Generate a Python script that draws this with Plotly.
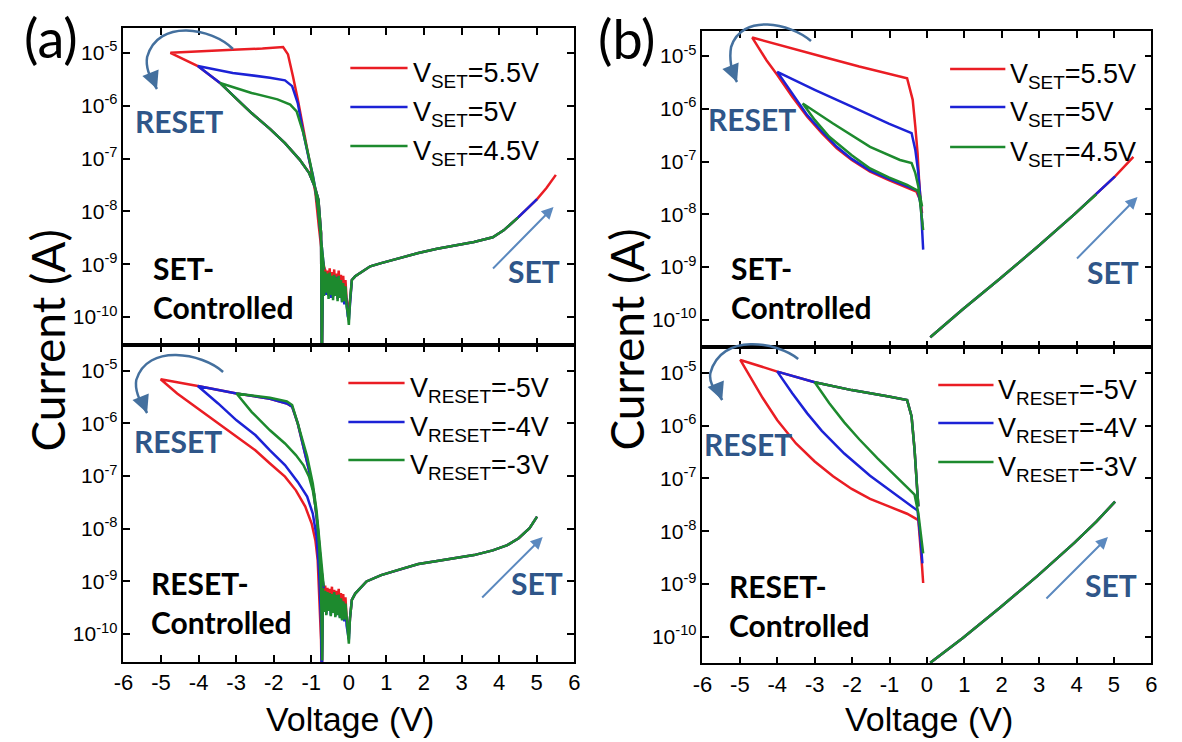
import numpy as np
import plotly.graph_objects as go

W, H = 1182, 742
RED, BLUE, GREEN = '#ea1d24', '#1c22d6', '#1d8a2e'
ARROW_DARK, ARROW_LIGHT, LABEL_BLUE = '#44709e', '#5b89bf', '#2f5689'
NUM_FONT = 'Liberation Sans Narrow, Arial Narrow, Liberation Sans, Arial, sans-serif'
SANS = 'Liberation Sans, Arial, sans-serif'
BOLD_FONT = 'Lato, Open Sans, sans-serif'

# ---------------- data (log10 of current in A) ----------------
x_tick_vals = [-6, -5, -4, -3, -2, -1, 0, 1, 2, 3, 4, 5, 6]
x_tick_text = ['-6', '-5', '-4', '-3', '-2', '-1', '0', '1', '2', '3', '4', '5', '6']
y_tick_vals = [1e-10, 1e-9, 1e-8, 1e-7, 1e-6, 1e-5]
y_tick_text = ['10<sup>-10</sup>', '10<sup>-9</sup>', '10<sup>-8</sup>', '10<sup>-7</sup>',
               '10<sup>-6</sup>', '10<sup>-5</sup>']

set_names = ['V<sub>SET</sub>=5.5V', 'V<sub>SET</sub>=5V', 'V<sub>SET</sub>=4.5V']
reset_names = ['V<sub>RESET</sub>=-5V', 'V<sub>RESET</sub>=-4V', 'V<sub>RESET</sub>=-3V']
v_set = [5.5, 5.0, 4.5]
v_reset = [-5.0, -4.0, -3.0]

# noisy floor between -0.7 V and 0 V (panels a)
floor_V = [-0.69, -0.66, -0.63, -0.60, -0.57, -0.54, -0.51, -0.48, -0.45, -0.42, -0.39, -0.36,
           -0.33, -0.30, -0.27, -0.24, -0.21, -0.18, -0.15, -0.12, -0.09, -0.06, -0.03]

# ---- (a) SET-controlled ----
a1_red_up_V = [-0.64, -0.70, -0.80, -0.89, -0.99, -1.11, -1.21, -1.36, -1.49, -1.62, -1.75, -2.30, -3.09, -4.00, -4.75]
a1_red_up_logI = [-9.10, -8.92, -8.28, -7.65, -7.27, -6.83, -6.39, -5.88, -5.44, -5.03, -4.89, -4.92, -4.94, -4.97, -5.00]
a1_blue_up_V = [-0.66, -0.74, -0.82, -0.90, -0.96, -1.06, -1.21, -1.36, -1.51, -1.70, -2.10, -3.09, -4.02]
a1_blue_up_logI = [-9.10, -8.50, -7.95, -7.55, -7.31, -7.02, -6.52, -5.95, -5.63, -5.52, -5.47, -5.38, -5.25]
a1_green_up_V = [-0.66, -0.74, -0.82, -0.90, -0.96, -1.03, -1.21, -1.39, -1.56, -1.90, -2.59, -3.43]
a1_green_up_logI = [-9.10, -8.50, -7.95, -7.55, -7.31, -7.08, -6.52, -6.11, -5.98, -5.88, -5.76, -5.57]
a1_low_V = [-4.75, -4.02, -3.43, -2.99, -2.59, -2.10, -1.70, -1.31, -1.06, -0.91, -0.81, -0.74, -0.72]
a1_low_logI = [-5.00, -5.25, -5.57, -5.87, -6.14, -6.44, -6.71, -7.02, -7.27, -7.53, -7.78, -8.41, -11.0]
a1_low_start = [-4.75, -4.02, -3.43]
a1_floor_logI = [
    [-9.05, -9.36, -9.10, -9.45, -9.12, -9.40, -9.08, -9.48, -9.15, -9.42, -9.10, -9.50, -9.18, -9.44, -9.12, -9.52, -9.20, -9.55, -9.22, -9.60, -9.30, -9.66, -9.78],
    [-9.18, -9.52, -9.22, -9.58, -9.24, -9.60, -9.26, -9.64, -9.28, -9.62, -9.30, -9.58, -9.24, -9.66, -9.32, -9.62, -9.36, -9.72, -9.42, -9.76, -9.50, -9.84, -9.98],
    [-9.10, -9.60, -9.14, -9.54, -9.18, -9.66, -9.16, -9.58, -9.22, -9.68, -9.20, -9.60, -9.25, -9.70, -9.22, -9.64, -9.30, -9.72, -9.36, -9.70, -9.42, -9.80, -9.92],
]
a1_dip_logI = [-9.95, -10.05, -10.15]
a1_pos_V = [0.03, 0.08, 0.17, 0.37, 0.57, 0.86, 1.36, 1.85, 2.35, 2.84, 3.33, 3.83, 4.12, 4.50, 4.72, 5.01, 5.26, 5.51]
a1_pos_logI = [-9.70, -9.30, -9.23, -9.14, -9.04, -8.98, -8.88, -8.79, -8.71, -8.65, -8.58, -8.49, -8.36, -8.12, -7.97, -7.77, -7.56, -7.31]

# ---- (a) RESET-controlled ----
a2_up_V = [-0.67, -0.74, -0.83, -0.93, -1.06, -1.21, -1.36, -1.51, -1.65, -2.10, -2.99, -4.02, -5.01]
a2_up_logI = [-9.13, -8.72, -7.96, -7.33, -6.89, -6.44, -6.00, -5.68, -5.62, -5.53, -5.43, -5.29, -5.16]
a2_green_up_V = [-0.67, -0.77, -0.86, -0.96, -1.11, -1.36, -1.51, -1.65, -2.10, -2.99]
a2_green_up_logI = [-9.10, -8.34, -7.65, -7.14, -6.63, -6.00, -5.65, -5.58, -5.51, -5.43]
a2_red_low_V = [-5.01, -4.57, -4.02, -3.48, -2.99, -2.49, -2.10, -1.70, -1.41, -1.16, -0.99, -0.89, -0.83, -0.79, -0.74, -0.72]
a2_red_low_logI = [-5.16, -5.43, -5.72, -6.00, -6.25, -6.51, -6.76, -7.01, -7.27, -7.58, -7.90, -8.22, -8.59, -9.16, -10.11, -11.0]
a2_blue_low_V = [-4.02, -3.48, -2.99, -2.49, -2.10, -1.70, -1.36, -1.11, -0.96, -0.86, -0.79, -0.74, -0.72]
a2_blue_low_logI = [-5.29, -5.62, -5.94, -6.22, -6.51, -6.79, -7.11, -7.39, -7.71, -8.15, -8.85, -9.80, -11.0]
a2_green_low_V = [-2.99, -2.59, -2.10, -1.70, -1.41, -1.21, -1.06, -0.96, -0.86, -0.79, -0.74, -0.71]
a2_green_low_logI = [-5.43, -5.78, -6.13, -6.38, -6.60, -6.79, -7.01, -7.27, -7.71, -8.34, -9.16, -10.5]
a2_floor_logI = [
    [-9.10, -9.38, -9.08, -9.46, -9.12, -9.50, -9.14, -9.42, -9.10, -9.48, -9.16, -9.54, -9.18, -9.45, -9.14, -9.56, -9.22, -9.58, -9.24, -9.62, -9.30, -9.68, -9.80],
    [-9.20, -9.54, -9.22, -9.62, -9.25, -9.56, -9.22, -9.64, -9.28, -9.58, -9.24, -9.66, -9.30, -9.60, -9.32, -9.68, -9.36, -9.72, -9.40, -9.76, -9.46, -9.84, -9.98],
    [-9.12, -9.58, -9.18, -9.64, -9.20, -9.56, -9.22, -9.66, -9.24, -9.60, -9.20, -9.68, -9.26, -9.64, -9.25, -9.70, -9.32, -9.74, -9.38, -9.72, -9.42, -9.80, -9.94],
]
a2_dip_logI = [-10.0, -10.1, -10.18]
a2_pos_V = [0.03, 0.08, 0.17, 0.47, 0.86, 1.36, 1.85, 2.35, 2.84, 3.33, 3.83, 4.22, 4.52, 4.81, 5.01]
a2_pos_logI = [-9.70, -9.35, -9.23, -9.00, -8.88, -8.77, -8.67, -8.61, -8.56, -8.50, -8.41, -8.31, -8.18, -7.99, -7.77]

# ---- (b) SET-controlled ----
b1_up_V = [
    [-0.13, -0.17, -0.21, -0.25, -0.31, -0.38, -0.53, -1.02, -1.81, -2.81, -3.80, -4.67],
    [-0.10, -0.13, -0.17, -0.23, -0.31, -0.41, -1.02, -2.01, -3.00, -4.00],
    [-0.10, -0.13, -0.17, -0.23, -0.31, -0.41, -0.72, -1.52, -2.51, -3.32],
]
b1_up_logI = [
    [-7.98, -7.73, -7.35, -6.84, -6.34, -5.83, -5.42, -5.34, -5.20, -5.01, -4.82, -4.65],
    [-8.67, -8.23, -7.73, -7.22, -6.78, -6.46, -6.28, -5.96, -5.64, -5.30],
    [-8.30, -8.11, -7.79, -7.47, -7.22, -7.03, -6.97, -6.72, -6.28, -5.90],
]
b1_low_V = [
    [-4.67, -4.29, -4.00, -3.60, -3.20, -2.81, -2.41, -2.01, -1.52, -1.02, -0.53, -0.28, -0.18, -0.13],
    [-4.00, -3.60, -3.20, -2.81, -2.41, -2.01, -1.52, -1.02, -0.53, -0.25, -0.17, -0.12],
    [-3.32, -3.00, -2.61, -2.01, -1.52, -1.02, -0.53, -0.25, -0.18, -0.13],
]
b1_low_logI = [
    [-4.65, -5.08, -5.36, -5.77, -6.15, -6.46, -6.75, -6.97, -7.19, -7.35, -7.49, -7.57, -7.73, -7.98],
    [-5.30, -5.71, -6.12, -6.43, -6.72, -6.95, -7.17, -7.33, -7.47, -7.55, -7.80, -8.20],
    [-5.90, -6.21, -6.53, -6.88, -7.13, -7.30, -7.44, -7.55, -7.66, -7.85],
]
b1_pos_V = [0.09, 0.96, 1.95, 2.95, 3.94, 4.53, 5.03, 5.52]
b1_pos_logI = [-10.33, -9.80, -9.22, -8.62, -8.00, -7.62, -7.28, -6.91]

# ---- (b) RESET-controlled ----
b2_up_V = [-0.23, -0.27, -0.33, -0.41, -0.53, -1.02, -2.01, -3.00, -4.00, -4.99]
b2_up_logI = [-7.53, -7.09, -6.46, -5.83, -5.52, -5.45, -5.33, -5.18, -4.98, -4.76]
b2_low_V = [
    [-4.99, -4.69, -4.39, -4.00, -3.50, -3.00, -2.51, -2.01, -1.52, -1.02, -0.53, -0.23, -0.18, -0.13, -0.10],
    [-4.00, -3.60, -3.20, -2.81, -2.21, -1.52, -1.02, -0.53, -0.25, -0.17, -0.12],
    [-3.00, -2.61, -2.21, -1.81, -1.32, -0.82, -0.33, -0.23, -0.16, -0.10],
]
b2_low_logI = [
    [-4.76, -5.12, -5.48, -5.90, -6.34, -6.68, -6.96, -7.20, -7.39, -7.53, -7.67, -7.79, -8.17, -8.67, -8.98],
    [-4.98, -5.39, -5.77, -6.10, -6.53, -6.95, -7.21, -7.46, -7.61, -8.17, -8.61],
    [-5.18, -5.58, -5.94, -6.26, -6.62, -6.96, -7.31, -7.66, -8.10, -8.42],
]
b2_pos_V = [0.09, 0.96, 1.95, 2.95, 3.94, 4.53, 5.03]
b2_pos_logI = [-10.49, -10.02, -9.45, -8.85, -8.22, -7.82, -7.44]

# ---------------- figure ----------------
colors = [RED, BLUE, GREEN]
fig = go.Figure()


def px(x):
    return x / W


def py(y):
    return 1 - y / H


def add_line(panel, color, V, logI):
    y = [None if l is None else 10 ** l for l in logI]
    sfx = '' if panel == 1 else str(panel)
    fig.add_trace(go.Scatter(x=V, y=y, mode='lines', line=dict(color=color, width=2.5),
                             xaxis='x' + sfx, yaxis='y' + sfx, showlegend=False,
                             hoverinfo='skip', connectgaps=False))


def upto(V, L, vmax):
    return ([v for v in V if v <= vmax + 0.03], [l for v, l in zip(V, L) if v <= vmax + 0.03])


def from_(V, L, vmin):
    return ([v for v in V if v >= vmin - 0.005], [l for v, l in zip(V, L) if v >= vmin - 0.005])


# panel 1: (a) SET-controlled
a1_ups = [(a1_red_up_V, a1_red_up_logI), (a1_blue_up_V, a1_blue_up_logI), (a1_green_up_V, a1_green_up_logI)]
for i in range(3):
    uV, uL = a1_ups[i]
    lV, lL = from_(a1_low_V, a1_low_logI, a1_low_start[i])
    pV, pL = upto(a1_pos_V, a1_pos_logI, v_set[i])
    V = uV + lV + floor_V + [0.0] + pV
    L = uL + lL + a1_floor_logI[i] + [a1_dip_logI[i]] + pL
    add_line(1, colors[i], V, L)

# panel 2: (a) RESET-controlled
a2_lows = [(a2_red_low_V, a2_red_low_logI), (a2_blue_low_V, a2_blue_low_logI), (a2_green_low_V, a2_green_low_logI)]
for i in range(3):
    if i < 2:
        uV, uL = from_(a2_up_V, a2_up_logI, v_reset[i] - 0.02)
    else:
        uV, uL = a2_green_up_V, a2_green_up_logI
    lV, lL = a2_lows[i]
    V = uV + lV + floor_V + [0.0] + a2_pos_V
    L = uL + lL + a2_floor_logI[i] + [a2_dip_logI[i]] + a2_pos_logI
    add_line(2, colors[i], V, L)

# panel 3: (b) SET-controlled
for i in range(3):
    pV, pL = upto(b1_pos_V, b1_pos_logI, v_set[i])
    V = b1_up_V[i] + b1_low_V[i] + [None] + pV
    L = b1_up_logI[i] + b1_low_logI[i] + [None] + pL
    add_line(3, colors[i], V, L)

# panel 4: (b) RESET-controlled
for i in range(3):
    uV, uL = from_(b2_up_V, b2_up_logI, v_reset[i] - 0.02)
    V = uV + b2_low_V[i] + [None] + b2_pos_V
    L = uL + b2_low_logI[i] + [None] + b2_pos_logI
    add_line(4, colors[i], V, L)

# ---------------- axes ----------------
axis_common = dict(showline=True, linecolor='black', linewidth=1.6, mirror='allticks',
                   ticks='inside', ticklen=7, tickwidth=1.5, tickcolor='black',
                   showgrid=False, zeroline=False)
x_dom_left = [115 / W, 572 / W]
x_dom_right = [702 / W, 1157 / W]
panels = {
    1: dict(xd=x_dom_left, yd=[1 - 345 / H, 1 - 28 / H], yr=[-10.53, -4.53], labels=False),
    2: dict(xd=x_dom_left, yd=[1 - 662 / H, 1 - 345 / H], yr=[-10.53, -4.51], labels=True),
    3: dict(xd=x_dom_right, yd=[1 - 347.3 / H, 1 - 30.7 / H], yr=[-10.52, -4.52], labels=False),
    4: dict(xd=x_dom_right, yd=[1 - 663.3 / H, 1 - 347.3 / H], yr=[-10.50, -4.52], labels=True),
}
layout_axes = {}
for p, d in panels.items():
    sfx = '' if p == 1 else str(p)
    layout_axes['xaxis' + sfx] = dict(axis_common, domain=d['xd'], range=[-6, 6], anchor='y' + sfx,
                                      tickvals=x_tick_vals, ticktext=x_tick_text,
                                      showticklabels=d['labels'],
                                      tickfont=dict(family=NUM_FONT, size=22, color='black'))
    layout_axes['yaxis' + sfx] = dict(axis_common, domain=d['yd'], type='log', range=d['yr'],
                                      anchor='x' + sfx, tickvals=y_tick_vals, ticktext=y_tick_text,
                                      tickfont=dict(family=NUM_FONT, size=21, color='black'))

fig.update_layout(width=W, height=H, margin=dict(l=0, r=0, t=0, b=0),
                  paper_bgcolor='white', plot_bgcolor='white', showlegend=False, **layout_axes)


# ---------------- decorations ----------------
def text(x, y, s, size, color='black', family=SANS, xanchor='center', angle=0, bold=False, align='center'):
    if bold:
        s = '<b>' + s.replace('<br>', '</b><br><b>') + '</b>'
    fig.add_annotation(x=px(x), y=py(y), xref='paper', yref='paper', text=s, showarrow=False,
                       xanchor=xanchor, yanchor='middle', textangle=angle, align=align,
                       font=dict(family=family, size=size, color=color))


# panel letters and axis titles
text(42, 37, '(a)', 54, family=BOLD_FONT)
text(625, 38, '(b)', 54, family=BOLD_FONT)
text(38, 340, 'Current (A)', 46, family=BOLD_FONT, angle=-90)
text(624, 340, 'Current (A)', 46, family=BOLD_FONT, angle=-90)
text(345, 719, 'Voltage (V)', 34, family=SANS)
text(932, 719, 'Voltage (V)', 34, family=SANS)

# legends (line keys + labels)
legend_specs = [
    (345, 403, [68, 107, 146], set_names),
    (343, 400, [383, 422, 460], reset_names),
    (953, 1009, [69, 107, 147], set_names),
    (941, 997, [385, 423, 462], reset_names),
]
for x0, x1, rows, names in legend_specs:
    for c, yy, nm in zip(colors, rows, names):
        fig.add_shape(type='line', xref='paper', yref='paper', x0=px(x0), x1=px(x1),
                      y0=py(yy), y1=py(yy), line=dict(color=c, width=2.5))
        text(x1 + 3, yy + 7, nm, 27, family=NUM_FONT, xanchor='left')

# RESET / SET labels
for (x, y) in [(171, 121), (170, 441), (752, 119), (748, 444)]:
    text(x, y, 'RESET', 30, color=LABEL_BLUE, family=BOLD_FONT, bold=True)
for (x, y) in [(531, 271), (534, 583), (1118, 272), (1116, 585)]:
    text(x, y, 'SET', 30, color=LABEL_BLUE, family=BOLD_FONT, bold=True)
for (x, y, s) in [(143, 287, 'SET-<br>Controlled'), (141, 602, 'RESET-<br>Controlled'),
                  (729, 287, 'SET-<br>Controlled'), (727, 605, 'RESET-<br>Controlled')]:
    text(x, y, s, 30, family=BOLD_FONT, xanchor='left', bold=True, align='left')

# straight SET arrows
for (tx, ty, hx, hy) in [(489, 270, 551, 207), (478, 599, 540, 537), (1081, 260, 1143, 197), (1050, 600, 1113, 537)]:
    fig.add_annotation(x=px(hx), y=py(hy), xref='paper', yref='paper', ax=tx - hx, ay=ty - hy,
                       showarrow=True, arrowhead=2, arrowsize=1.2, arrowwidth=2, arrowcolor=ARROW_LIGHT,
                       text='', standoff=0)


# curved RESET arrows
def curved_arrow(s, a, l, t):
    pts = [s, (s[0] - 21, a[1] - 2), (l[0] + 11, a[1] - 12), l,
           (l[0] - 2, l[1] + 11), (t[0] - 6, t[1] - 9), t]
    P = [(px(x), py(y)) for x, y in pts]
    path = 'M {:.5f},{:.5f} C {:.5f},{:.5f} {:.5f},{:.5f} {:.5f},{:.5f} C {:.5f},{:.5f} {:.5f},{:.5f} {:.5f},{:.5f}'.format(
        *[v for p in P for v in p])
    fig.add_shape(type='path', path=path, xref='paper', yref='paper',
                  line=dict(color=ARROW_DARK, width=2.5))
    fig.add_annotation(x=px(t[0]), y=py(t[1]), xref='paper', yref='paper', ax=-4, ay=-10,
                       showarrow=True, arrowhead=2, arrowsize=1.4, arrowwidth=2.5,
                       arrowcolor=ARROW_DARK, text='', standoff=0)


curved_arrow((226, 49), (177, 30), (139, 57), (149, 89))
curved_arrow((216, 372), (162, 355), (128, 380), (139, 413))
curved_arrow((812, 41), (759, 25), (731, 47), (737, 82))
curved_arrow((799, 359), (740, 344), (710, 373), (722, 400))

fig.write_html('out.html')
